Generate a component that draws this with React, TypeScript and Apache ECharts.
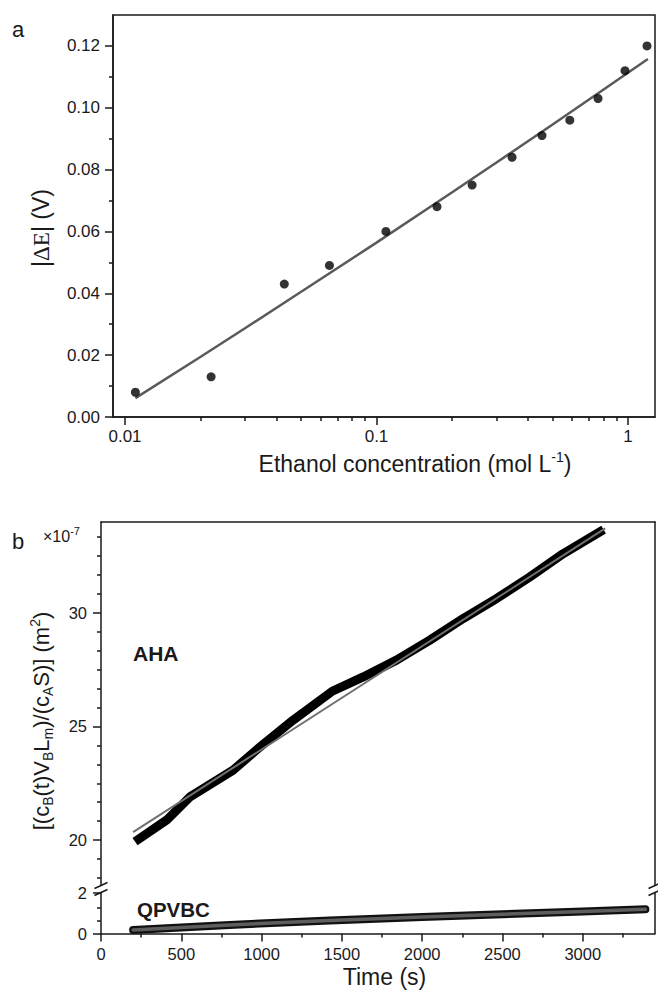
import React, { useEffect, useRef } from "react";
import * as echarts from "echarts";

// ---------- Panel a data ----------
const concentration = [0.011, 0.022, 0.043, 0.065, 0.109, 0.174, 0.24, 0.346, 0.455, 0.587, 0.76, 0.973, 1.19];
const deltaE = [0.008, 0.013, 0.043, 0.049, 0.06, 0.068, 0.075, 0.084, 0.091, 0.096, 0.103, 0.112, 0.12];
const fitConcentration = [0.011, 0.02, 0.03, 0.05, 0.1, 0.2, 0.3, 0.5, 0.8, 1.2];
const fitDeltaE = [0.0061, 0.0195, 0.0287, 0.0404, 0.0564, 0.0727, 0.0823, 0.0945, 0.1059, 0.1158];
const concMajorTicks = [0.01, 0.1, 1];
const concTickLabels = ["0.01", "0.1", "1"];
const concMinorTicks = [0.02, 0.03, 0.04, 0.05, 0.06, 0.07, 0.08, 0.09, 0.2, 0.3, 0.4, 0.5, 0.6, 0.7, 0.8, 0.9];
const concRange = [0.00896, 1.2805];
const deltaEMajorTicks = [0, 0.02, 0.04, 0.06, 0.08, 0.1, 0.12];
const deltaEMinorTicks = [0.01, 0.03, 0.05, 0.07, 0.09, 0.11];
const deltaERange = [0, 0.13];

// ---------- Panel b data ----------
const ahaTime = [212, 409, 554, 823, 990, 1197, 1440, 1633, 1840, 2048, 2255, 2463, 2670, 2877, 3130];
const ahaValue = [19.93, 20.88, 21.9, 23.08, 24.1, 25.28, 26.55, 27.18, 27.92, 28.8, 29.75, 30.63, 31.58, 32.6, 33.66];
const ahaFitTime = [200, 3140];
const ahaFitValue = [20.35, 33.72];
const qpvbcTime = [200, 800, 1425, 2000, 2500, 3000, 3390];
const qpvbcValue = [0.17, 0.42, 0.63, 0.8, 0.94, 1.07, 1.18];
const timeRange = [0, 3450];
const timeMajorTicks = [0, 500, 1000, 1500, 2000, 2500, 3000];
const timeMinorTicks = [250, 750, 1250, 1750, 2250, 2750, 3250];
const upperRange = [18, 34];
const upperMajorTicks = [20, 25, 30];
const upperMinorTicks = [18.333, 19.167, 20.833, 21.667, 22.5, 23.333, 24.167, 25.833, 26.667, 27.5, 28.333, 29.167, 30.833, 31.667, 32.5, 33.333];
const lowerRange = [0, 2];
const lowerMajorTicks = [0, 2];
const lowerMinorTicks = [0.625, 1.25];

const FONT = "'Liberation Sans', Arial, Helvetica, sans-serif";
const SERIF = "'Liberation Serif', 'Times New Roman', serif";
const INK = "#1a1a1a";
const lg = (v: number) => Math.log10(v);

function lineAxis(extra: any) {
  return {
    type: "value",
    splitLine: { show: false },
    axisLine: { show: true, onZero: false, lineStyle: { color: INK, width: 1.5 } },
    axisTick: { show: false },
    axisLabel: { show: false },
    ...extra,
  };
}

function tickAxis(extra: any, ticks: number[], len: number, labels?: { values: number[]; fmt: (v: number) => string; margin: number; size: number }) {
  return {
    type: "value",
    splitLine: { show: false },
    axisLine: { show: !!labels, onZero: false, lineStyle: { color: INK, width: 1.5 } },
    axisTick: { show: true, inside: false, length: len, customValues: ticks, lineStyle: { color: INK, width: 1.5 } },
    axisLabel: labels
      ? { show: true, customValues: labels.values, formatter: labels.fmt, margin: labels.margin, fontSize: labels.size, color: INK, fontFamily: FONT }
      : { show: false },
    ...extra,
  };
}

export default function App() {
  const ref = useRef<HTMLDivElement>(null);

  useEffect(() => {
    document.body.style.margin = "0";
    const chart = echarts.init(ref.current!, undefined, { renderer: "svg" });

    const concFmt = (v: number) => {
      const i = concMajorTicks.findIndex((c) => Math.abs(lg(c) - v) < 1e-6);
      return i >= 0 ? concTickLabels[i] : "";
    };

    const option: any = {
      animation: false,
      textStyle: { fontFamily: FONT, color: INK },
      grid: [
        { left: 113, top: 15, width: 542, height: 402, show: true, borderColor: INK, borderWidth: 1.5, backgroundColor: "transparent", outerBoundsMode: "none" },
        { left: 101, top: 522, width: 554, height: 363.5, outerBoundsMode: "none" },
        { left: 101, top: 892.5, width: 554, height: 41, outerBoundsMode: "none" },
      ],
      xAxis: [
        tickAxis({ gridIndex: 0, position: "bottom", min: lg(concRange[0]), max: lg(concRange[1]) }, concMajorTicks.map(lg), 8, {
          values: concMajorTicks.map(lg), fmt: concFmt, margin: 11, size: 17,
        }),
        tickAxis({ gridIndex: 0, position: "bottom", min: lg(concRange[0]), max: lg(concRange[1]) }, concMinorTicks.map(lg), 4),
        lineAxis({ gridIndex: 1, position: "top", min: timeRange[0], max: timeRange[1] }),
        tickAxis({ gridIndex: 2, position: "bottom", min: timeRange[0], max: timeRange[1] }, timeMajorTicks, 8, {
          values: timeMajorTicks, fmt: (v: number) => String(v), margin: 12, size: 16.5,
        }),
        tickAxis({ gridIndex: 2, position: "bottom", min: timeRange[0], max: timeRange[1] }, timeMinorTicks, 4),
      ],
      yAxis: [
        tickAxis({ gridIndex: 0, position: "left", min: deltaERange[0], max: deltaERange[1] }, deltaEMajorTicks, 8, {
          values: deltaEMajorTicks, fmt: (v: number) => v.toFixed(2), margin: 13, size: 17,
        }),
        tickAxis({ gridIndex: 0, position: "left", min: deltaERange[0], max: deltaERange[1] }, deltaEMinorTicks, 4),
        tickAxis({ gridIndex: 1, position: "left", min: upperRange[0], max: upperRange[1] }, upperMajorTicks, 8, {
          values: upperMajorTicks, fmt: (v: number) => String(v), margin: 14, size: 16.5,
        }),
        tickAxis({ gridIndex: 1, position: "left", min: upperRange[0], max: upperRange[1] }, upperMinorTicks, 4),
        lineAxis({ gridIndex: 1, position: "right", min: upperRange[0], max: upperRange[1] }),
        tickAxis({ gridIndex: 2, position: "left", min: lowerRange[0], max: lowerRange[1] }, lowerMajorTicks, 8, {
          values: lowerMajorTicks, fmt: (v: number) => String(v), margin: 14, size: 16.5,
        }),
        tickAxis({ gridIndex: 2, position: "left", min: lowerRange[0], max: lowerRange[1] }, lowerMinorTicks, 4),
        lineAxis({ gridIndex: 2, position: "right", min: lowerRange[0], max: lowerRange[1] }),
      ],
      series: [
        {
          type: "line", xAxisIndex: 0, yAxisIndex: 0, symbol: "none", silent: true, z: 2,
          data: fitConcentration.map((c, i) => [lg(c), fitDeltaE[i]]),
          lineStyle: { color: "#5a5a5a", width: 2.5 },
        },
        {
          type: "scatter", xAxisIndex: 0, yAxisIndex: 0, symbolSize: 9, silent: true, z: 3,
          data: concentration.map((c, i) => [lg(c), deltaE[i]]),
          itemStyle: { color: "#000" },
        },
        {
          type: "line", xAxisIndex: 2, yAxisIndex: 2, symbol: "none", silent: true, z: 2,
          data: ahaTime.map((t, i) => [t, ahaValue[i]]),
          lineStyle: { color: "#000", width: 9, cap: "butt", join: "round" },
        },
        {
          type: "line", xAxisIndex: 2, yAxisIndex: 2, symbol: "none", silent: true, z: 3,
          data: ahaFitTime.map((t, i) => [t, ahaFitValue[i]]),
          lineStyle: { color: "#707070", width: 2 },
        },
        {
          type: "line", xAxisIndex: 3, yAxisIndex: 5, symbol: "none", silent: true, z: 2, clip: false,
          data: qpvbcTime.map((t, i) => [t, qpvbcValue[i]]),
          lineStyle: { color: "#111", width: 8, cap: "round", join: "round" },
        },
        {
          type: "line", xAxisIndex: 3, yAxisIndex: 5, symbol: "none", silent: true, z: 3, clip: false,
          data: qpvbcTime.map((t, i) => [t, qpvbcValue[i]]),
          lineStyle: { color: "#5e5e5e", width: 3.5, cap: "round", join: "round" },
        },
      ],
      graphic: {
        elements: [
          { type: "text", x: 12, y: 29.5, style: { text: "a", fontSize: 22, fontFamily: FONT, fill: INK, align: "left", verticalAlign: "middle" } },
          { type: "text", x: 12, y: 541.5, style: { text: "b", fontSize: 22, fontFamily: FONT, fill: INK, align: "left", verticalAlign: "middle" } },
          {
            type: "text", x: 415, y: 464,
            style: {
              text: "Ethanol concentration (mol L{sup|-1})", fontSize: 23, fontFamily: FONT, fill: INK, align: "center", verticalAlign: "middle",
              rich: { sup: { fontSize: 14, fontFamily: FONT, fill: INK, padding: [0, 0, 14, 0] } },
            },
          },
          {
            type: "text", x: 41, y: 228, rotation: Math.PI / 2,
            style: {
              text: "|{s|ΔE}| (V)", fontSize: 23, fontFamily: FONT, fill: INK, align: "center", verticalAlign: "middle",
              rich: { s: { fontSize: 23, fontFamily: SERIF, fill: INK } },
            },
          },
          {
            type: "text", x: 43, y: 536.5,
            style: {
              text: "×10{sup|-7}", fontSize: 16, fontFamily: FONT, fill: INK, align: "left", verticalAlign: "middle",
              rich: { sup: { fontSize: 11, fontFamily: FONT, fill: INK, padding: [0, 0, 11, 0] } },
            },
          },
          {
            type: "text", x: 41, y: 721, rotation: Math.PI / 2,
            style: {
              text: "[(c{sub|B}(t)V{sub|B}L{sub|m})/(c{sub|A}S)] (m{sup|2})", fontSize: 22, fontFamily: FONT, fill: INK, align: "center", verticalAlign: "middle",
              rich: {
                sub: { fontSize: 14, fontFamily: FONT, fill: INK, padding: [14, 0, 0, 0] },
                sup: { fontSize: 14, fontFamily: FONT, fill: INK, padding: [0, 0, 13, 0] },
              },
            },
          },
          { type: "text", x: 133, y: 653, style: { text: "AHA", fontSize: 21, fontWeight: "bold", fontFamily: FONT, fill: INK, align: "left", verticalAlign: "middle" } },
          { type: "text", x: 137, y: 909, style: { text: "QPVBC", fontSize: 20.5, fontWeight: "bold", fontFamily: FONT, fill: INK, align: "left", verticalAlign: "middle" } },
          { type: "text", x: 384.5, y: 977, style: { text: "Time (s)", fontSize: 23, fontFamily: FONT, fill: INK, align: "center", verticalAlign: "middle" } },
          // axis break marks
          { type: "line", shape: { x1: 94.5, y1: 888.5, x2: 107.5, y2: 882.5 }, style: { stroke: INK, lineWidth: 1.5 } },
          { type: "line", shape: { x1: 94.5, y1: 895.5, x2: 107.5, y2: 889.5 }, style: { stroke: INK, lineWidth: 1.5 } },
          { type: "line", shape: { x1: 648.5, y1: 888.5, x2: 661.5, y2: 882.5 }, style: { stroke: INK, lineWidth: 1.5 } },
          { type: "line", shape: { x1: 648.5, y1: 895.5, x2: 661.5, y2: 889.5 }, style: { stroke: INK, lineWidth: 1.5 } },
        ],
      },
    };

    chart.setOption(option);
    return () => chart.dispose();
  }, []);

  return <div ref={ref} style={{ width: 658, height: 992 }} />;
}
